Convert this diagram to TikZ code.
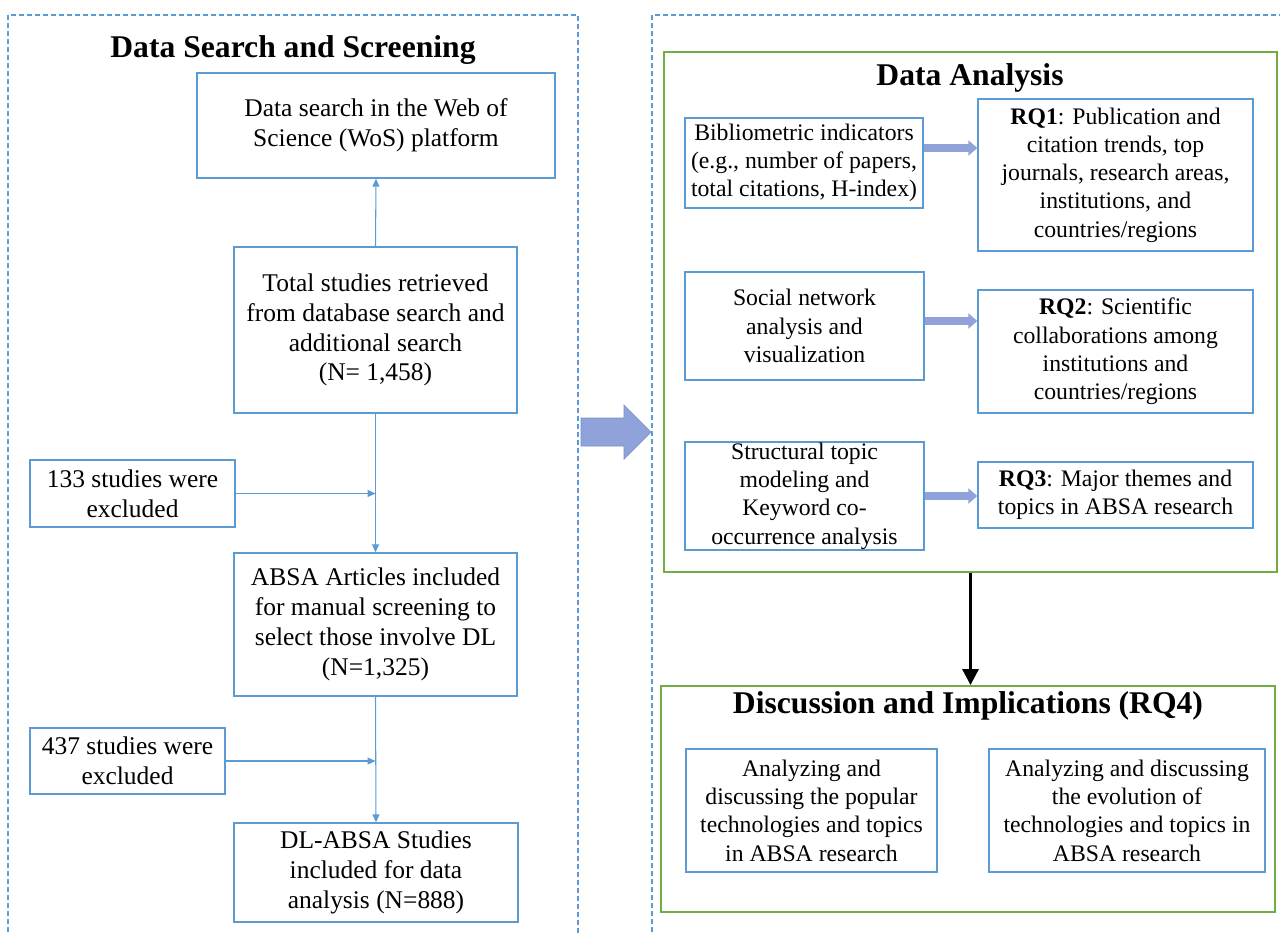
\documentclass[tikz,border=0pt]{standalone}
\usepackage{fontspec}
\setmainfont{Liberation Serif}
\usetikzlibrary{arrows.meta, positioning}
\definecolor{BoxBlue}{HTML}{5B9BD5}
\definecolor{PanelGreen}{HTML}{70AD47}
\definecolor{ArrowFill}{HTML}{8FA2D9}
\definecolor{ArrowEdge}{HTML}{7B8FCB}
\tikzset{
    % Box styles
    stepbox/.style={
        rectangle,
        draw=BoxBlue,
        line width=0.8pt,
        align=center,
        inner sep=0pt,
        font=\fontsize{14.5}{17}\selectfont
    },
    methodbox/.style={
        rectangle,
        draw=BoxBlue,
        line width=0.8pt,
        align=center,
        inner sep=0pt,
        font=\fontsize{13.5}{16.1}\selectfont
    },
    panelbox/.style={
        rectangle,
        draw=PanelGreen,
        line width=1.1pt
    },
    paneltitle/.style={
        font=\fontsize{18}{21}\selectfont\bfseries
    },
    dashedpanel/.style={
        draw=BoxBlue,
        line width=0.7pt,
        dash pattern=on 0.1cm off 0.06cm
    },
    % Arrow styles
    flowarrow/.style={
        draw=BoxBlue,
        line width=0.6pt,
        -{Triangle[length=0.16cm,width=0.14cm]}
    },
    blockarrow/.style={
        draw=ArrowFill,
        line width=0.16cm,
        -{Triangle[length=0.18cm,width=0.3cm]}
    },
    mainarrow/.style={
        draw=black,
        line width=0.06cm,
        -{Triangle[length=0.32cm,width=0.32cm]}
    }
}

\begin{document}
\begin{tikzpicture}[x=0.02cm, y=-0.02cm]
    \useasboundingbox (0,0) rectangle (1280,934);

    % left panel: search and screening
    \draw[dashedpanel] (8,940) -- (8,15) -- (578,15) -- (578,940);
    \node[paneltitle] (searchtitle) at (293,50) {Data Search and Screening};

    \node[stepbox, minimum width=7.16cm, minimum height=2.1cm] (wos) at (376,125.5) {Data search in the Web of\\Science (WoS) platform};
    \node[stepbox, minimum width=5.66cm, minimum height=3.32cm] (total) at (375.5,330) {Total studies retrieved\\from database search and\\additional search\\(N= 1,458)};
    \node[stepbox, minimum width=4.1cm, minimum height=1.34cm] (excla) at (132.5,493.5) {133 studies were\\excluded};
    \node[stepbox, minimum width=5.66cm, minimum height=2.86cm] (absa) at (375.5,624.5) {ABSA Articles included\\for manual screening to\\select those involve DL\\(N=1,325)};
    \node[stepbox, minimum width=3.9cm, minimum height=1.32cm] (exclb) at (127.5,761) {437 studies were\\excluded};
    \node[stepbox, minimum width=5.68cm, minimum height=1.98cm] (dlabsa) at (376,872.5) {DL-ABSA Studies\\included for data\\analysis (N=888)};

    \coordinate (joina) at (total.south |- excla.east);
    \coordinate (joinb) at (absa.south |- exclb.east);

    \draw[flowarrow] (total.north) -- (wos.south);
    \draw[flowarrow] (total.south) -- (absa.north);
    \draw[flowarrow] (excla.east) -- (joina);
    \draw[flowarrow] (absa.south) -- (dlabsa.north);
    \draw[flowarrow] (exclb.east) -- (joinb);

    % block arrow between the panels
    \filldraw[fill=ArrowFill, draw=ArrowEdge, line width=0.4pt]
        (581,418) -- (624,418) -- (624,405) -- (651,432) -- (624,459) -- (624,446) -- (581,446) -- cycle;

    % right panel: analysis
    \draw[dashedpanel] (652,940) -- (652,15) -- (1290,15);
    \node[panelbox, minimum width=12.26cm, minimum height=10.4cm] (dabox) at (970.5,312) {};
    \node[paneltitle] (datitle) at (970,78) {Data Analysis};

    \node[methodbox, minimum width=4.76cm, minimum height=1.8cm] (bib) at (804,163) {Bibliometric indicators\\(e.g., number of papers,\\total citations, H-index)};
    \node[methodbox, minimum width=5.5cm, minimum height=3.04cm] (rqone) at (1115.5,175) {\textbf{RQ1}: Publication and\\citation trends, top\\journals, research areas,\\institutions, and\\countries/regions};
    \node[methodbox, minimum width=4.78cm, minimum height=2.16cm] (social) at (804.5,326) {Social network\\analysis and\\visualization};
    \node[methodbox, minimum width=5.5cm, minimum height=2.46cm] (rqtwo) at (1115.5,351.5) {\textbf{RQ2}: Scientific\\collaborations among\\institutions and\\countries/regions};
    \node[methodbox, minimum width=4.78cm, minimum height=2.16cm] (struct) at (804.5,496) {Structural topic\\modeling and\\Keyword co-\\occurrence analysis};
    \node[methodbox, minimum width=5.5cm, minimum height=1.32cm] (rqthree) at (1115.5,495) {\textbf{RQ3}: Major themes and\\topics in ABSA research};

    \draw[blockarrow] ([yshift=0.3cm]bib.east) -- ([yshift=0.3cm]bib.east -| rqone.west);
    \draw[blockarrow] ([yshift=0.1cm]social.east) -- ([yshift=0.1cm]social.east -| rqtwo.west);
    \draw[blockarrow] (struct.east) -- (struct.east -| rqthree.west);

    % discussion
    \node[panelbox, minimum width=12.28cm, minimum height=4.52cm] (discbox) at (968,799) {};
    \node[paneltitle] (disctitle) at (968,706) {Discussion and Implications (RQ4)};
    \node[methodbox, minimum width=5.02cm, minimum height=2.46cm] (popular) at (811.5,810.5) {Analyzing and\\discussing the popular\\technologies and topics\\in ABSA research};
    \node[methodbox, minimum width=5.52cm, minimum height=2.46cm] (evolution) at (1127,810.5) {Analyzing and discussing\\the evolution of\\technologies and topics in\\ABSA research};

    \draw[mainarrow] (dabox.south) -- (dabox.south |- discbox.north);
\end{tikzpicture}
\end{document}
